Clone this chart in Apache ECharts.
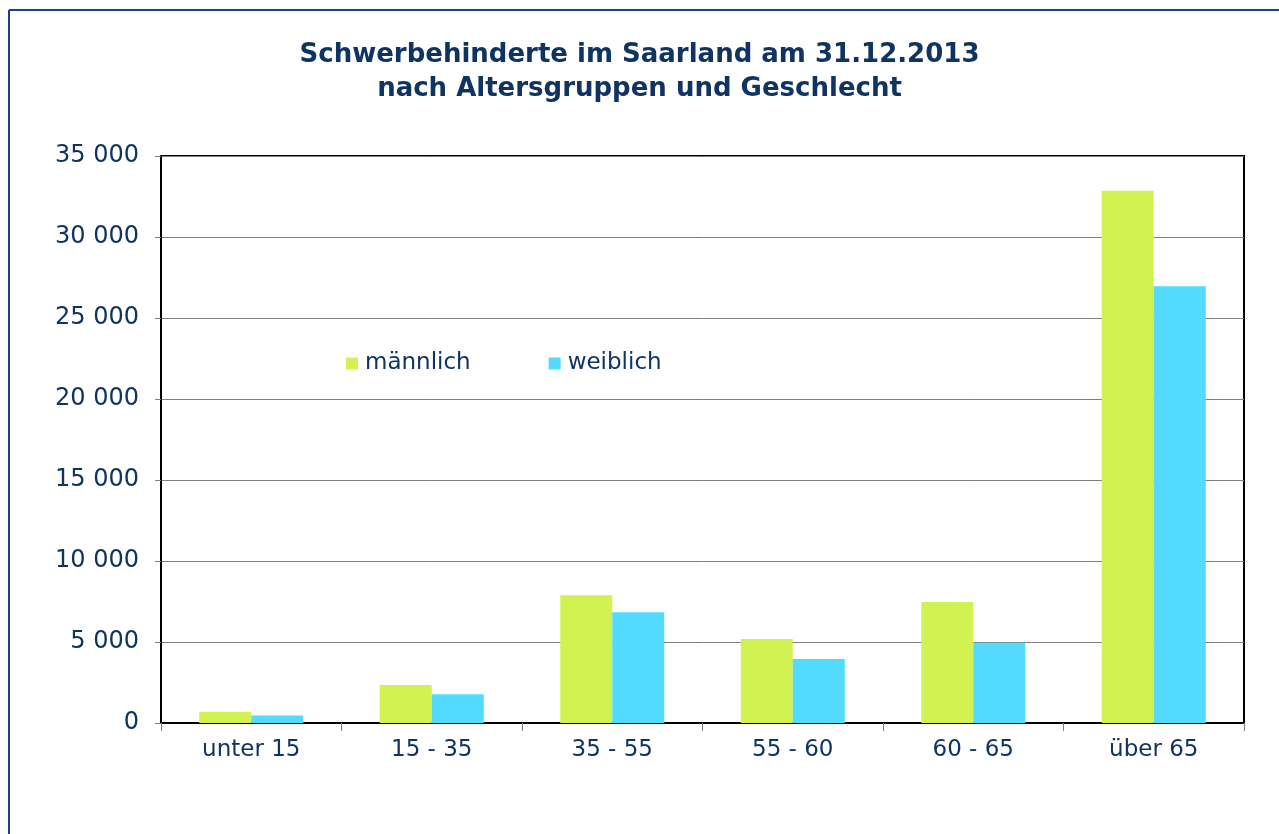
<!DOCTYPE html>
<html>
<head>
<meta charset="utf-8">
<script src="https://cdn.jsdelivr.net/npm/echarts@6/dist/echarts.min.js"></script>
<style>
html,body{margin:0;padding:0;background:#fff;}
#chart{width:1279px;height:834px;}
</style>
</head>
<body>
<div id="chart"></div>
<script>
const titleLines = ['Schwerbehinderte im Saarland am 31.12.2013', 'nach Altersgruppen und Geschlecht'];
const categories = ['unter 15', '15 - 35', '35 - 55', '55 - 60', '60 - 65', 'über 65'];
const seriesNames = ['männlich', 'weiblich'];
const maleValues = [690, 2350, 7880, 5190, 7470, 32860];
const femaleValues = [470, 1770, 6830, 3950, 4960, 26960];
const yTicks = [0, 5000, 10000, 15000, 20000, 25000, 30000, 35000];

const textColor = '#0f3462';
const fontFam = 'Verdana, "DejaVu Sans", sans-serif';

const chart = echarts.init(document.getElementById('chart'), null, {renderer: 'canvas'});
chart.setOption({
  backgroundColor: '#fff',
  animation: false,
  title: {
    text: titleLines.join('\n'),
    left: 'center',
    top: 33,
    textStyle: {color: textColor, fontSize: 26, fontWeight: 'bold', fontFamily: fontFam, lineHeight: 34}
  },
  graphic: [
    {type: 'line', shape: {x1: 9, y1: 10, x2: 1279, y2: 10}, style: {stroke: '#1f3f8a', lineWidth: 2}},
    {type: 'line', shape: {x1: 9, y1: 10, x2: 9, y2: 834}, style: {stroke: '#1f3f8a', lineWidth: 2}}
  ],
  legend: {
    data: seriesNames,
    left: 346,
    top: 352,
    padding: 0,
    itemWidth: 12,
    itemHeight: 12,
    itemGap: 78,
    icon: 'rect',
    textStyle: {color: textColor, fontSize: 23, fontFamily: fontFam, padding: [0, 0, 0, 2]}
  },
  grid: {left: 161, right: 35, top: 156, bottom: 111, show: true, borderColor: '#000', borderWidth: 2, containLabel: false},
  xAxis: {
    type: 'category',
    data: categories,
    axisLine: {show: true, lineStyle: {color: '#000', width: 2}},
    axisTick: {show: true, length: 8, lineStyle: {color: '#808080'}},
    axisLabel: {color: textColor, fontSize: 23, fontFamily: fontFam, margin: 16}
  },
  yAxis: {
    type: 'value',
    min: yTicks[0],
    max: yTicks[yTicks.length - 1],
    interval: yTicks[1] - yTicks[0],
    axisLine: {show: true, lineStyle: {color: '#000', width: 2}},
    axisTick: {show: true, length: 6, lineStyle: {color: '#808080'}},
    splitLine: {show: true, lineStyle: {color: '#808080', width: 1}},
    axisLabel: {
      color: textColor, fontSize: 24, fontFamily: fontFam, margin: 22,
      formatter: v => String(v).replace(/\B(?=(\d{3})+(?!\d))/g, ' ')
    }
  },
  series: [
    {name: seriesNames[0], type: 'bar', data: maleValues, barWidth: 52, barGap: '0%', itemStyle: {color: '#d2f252'}},
    {name: seriesNames[1], type: 'bar', data: femaleValues, barWidth: 52, barGap: '0%', itemStyle: {color: '#52dbff'}}
  ]
});
</script>
</body>
</html>
